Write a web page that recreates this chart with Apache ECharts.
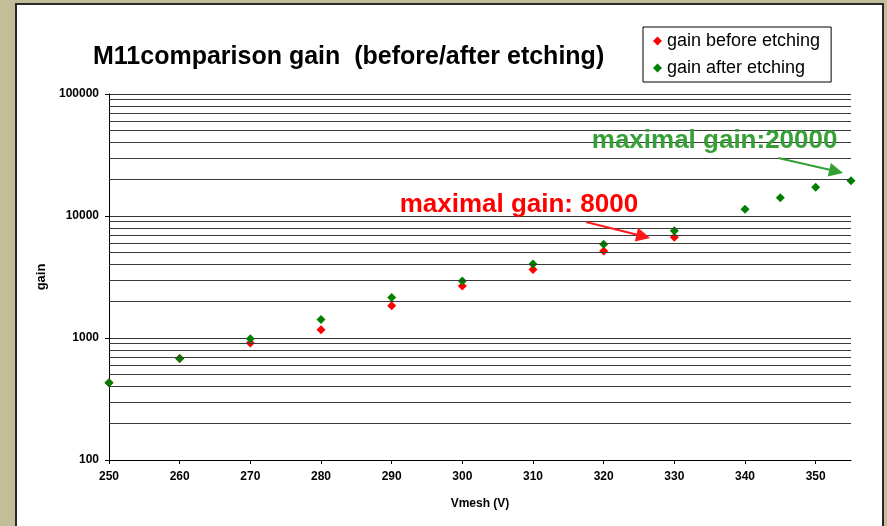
<!DOCTYPE html>
<html>
<head>
<meta charset="utf-8">
<script src="https://cdn.jsdelivr.net/npm/echarts@6/dist/echarts.min.js"></script>
<style>
html,body{margin:0;padding:0;background:#c3be98;width:887px;height:526px;overflow:hidden;}
#panel{position:absolute;left:15px;top:3px;width:869px;height:540px;background:#fff;border:2px solid #2a2a2a;box-sizing:border-box;}
#chart{position:absolute;left:0;top:0;width:887px;height:526px;}
</style>
</head>
<body>
<div id="panel"></div>
<div id="chart"></div>
<script>
// ---- data ----
const voltsBefore = [250, 260, 270, 280, 290, 300, 310, 320, 330];
const gainBefore  = [430, 680, 910, 1170, 1840, 2670, 3650, 5170, 6700];
const voltsAfter  = [250, 260, 270, 280, 290, 300, 310, 320, 330, 340, 345, 350, 355];
const gainAfter   = [430, 680, 987, 1420, 2150, 2930, 4045, 5870, 7580, 11350, 14120, 17180, 19450];
const xTickLabels = [250, 260, 270, 280, 290, 300, 310, 320, 330, 340, 350];
const yTickLabels = [100, 1000, 10000, 100000];
const minorGridValues = [200, 300, 400, 500, 600, 700, 800, 900,
                         2000, 3000, 4000, 5000, 6000, 7000, 8000, 9000,
                         20000, 30000, 40000, 50000, 60000, 70000, 80000, 90000];
const seriesNames = ['gain before etching', 'gain after etching'];
const titleText = 'M11comparison gain  (before/after etching)';
const noteRed = 'maximal gain: 8000';
const noteGreen = 'maximal gain:20000';
// annotation anchors (data coords)
const noteRedAt = [308, 12300];
const noteGreenAt = [335.7, 41500];
const arrowRed = [[317.5, 8930], [325.6, 6820]];
const arrowGreen = [[344.7, 29900], [352.9, 23230]];

const FONT = 'Liberation Sans, Arial, sans-serif';
const chart = echarts.init(document.getElementById('chart'));

const zip = (xs, ys) => xs.map((x, i) => [x, ys[i]]);

chart.setOption({
  backgroundColor: 'transparent',
  animation: false,
  title: {
    text: titleText,
    left: 88, top: 40,
    textStyle: {fontFamily: FONT, fontSize: 25, fontWeight: 'bold', color: '#000'}
  },
  legend: {
    data: seriesNames.map(n => ({name: n, icon: 'diamond'})),
    orient: 'vertical',
    left: 643, top: 27,
    width: 189,
    padding: [5, 11, 5, 10],
    itemWidth: 9, itemHeight: 9, itemGap: 9,
    borderColor: '#000', borderWidth: 1, backgroundColor: '#fff',
    textStyle: {fontFamily: FONT, fontSize: 18, color: '#000'}
  },
  grid: {left: 109, right: 36, top: 94, bottom: 66, containLabel: false},
  xAxis: {
    type: 'value', min: 250, max: 355, interval: 10,
    name: 'Vmesh (V)', nameLocation: 'middle', nameGap: 38,
    nameTextStyle: {fontFamily: FONT, fontSize: 12, fontWeight: 'bold', color: '#000'},
    axisLine: {show: true, lineStyle: {color: '#000', width: 1}},
    axisTick: {show: true, inside: false, length: 4, lineStyle: {color: '#000'}, customValues: xTickLabels},
    axisLabel: {fontFamily: FONT, fontSize: 12, fontWeight: 'bold', color: '#000', margin: 11, customValues: xTickLabels},
    splitLine: {show: false}
  },
  yAxis: {
    type: 'log', logBase: 10, min: 100, max: 100000,
    name: 'gain', nameLocation: 'middle', nameGap: 60, nameRotate: 90,
    nameTextStyle: {fontFamily: FONT, fontSize: 13, fontWeight: 'bold', color: '#000'},
    axisLine: {show: true, lineStyle: {color: '#000', width: 1}},
    axisTick: {show: true, inside: false, length: 4, lineStyle: {color: '#000'}},
    axisLabel: {fontFamily: FONT, fontSize: 12, fontWeight: 'bold', color: '#000', margin: 10,
                formatter: v => String(Math.round(v))},
    splitLine: {show: true, lineStyle: {color: '#333', width: 1}}
  },
  series: [
    {
      name: '__grid', type: 'scatter', data: [], z: 1, silent: true,
      markLine: {
        silent: true, symbol: 'none', animation: false,
        label: {show: false},
        lineStyle: {color: '#3a3a3a', width: 1, type: 'solid'},
        data: minorGridValues.map(v => ({yAxis: v}))
      }
    },
    {
      name: seriesNames[0], type: 'scatter', symbol: 'diamond', symbolSize: 9, z: 3,
      itemStyle: {color: '#ff0000', opacity: 1},
      data: zip(voltsBefore, gainBefore),
      markLine: {
        silent: true, symbol: ['none', 'triangle'], symbolSize: 14, animation: false,
        label: {show: false},
        lineStyle: {color: '#ff1a1a', width: 2, type: 'solid', opacity: 1},
        itemStyle: {color: '#ff1a1a'},
        data: [[{coord: arrowRed[0]}, {coord: arrowRed[1]}]]
      },
      markPoint: {
        silent: true, symbol: 'circle', symbolSize: 0, animation: false,
        itemStyle: {color: 'transparent'},
        label: {show: true, position: 'inside', formatter: noteRed,
                fontFamily: FONT, fontSize: 26, fontWeight: 'bold', color: '#ff0000'},
        data: [{coord: noteRedAt}]
      }
    },
    {
      name: seriesNames[1], type: 'scatter', symbol: 'diamond', symbolSize: 9, z: 4,
      itemStyle: {color: '#008000', opacity: 1},
      data: zip(voltsAfter, gainAfter),
      markLine: {
        silent: true, symbol: ['none', 'triangle'], symbolSize: 14, animation: false,
        label: {show: false},
        lineStyle: {color: '#33a033', width: 2, type: 'solid', opacity: 1},
        itemStyle: {color: '#33a033'},
        data: [[{coord: arrowGreen[0]}, {coord: arrowGreen[1]}]]
      },
      markPoint: {
        silent: true, symbol: 'circle', symbolSize: 0, animation: false,
        itemStyle: {color: 'transparent'},
        label: {show: true, position: 'inside', formatter: noteGreen,
                fontFamily: FONT, fontSize: 26, fontWeight: 'bold', color: '#36a036'},
        data: [{coord: noteGreenAt}]
      }
    }
  ]
});
</script>
</body>
</html>
